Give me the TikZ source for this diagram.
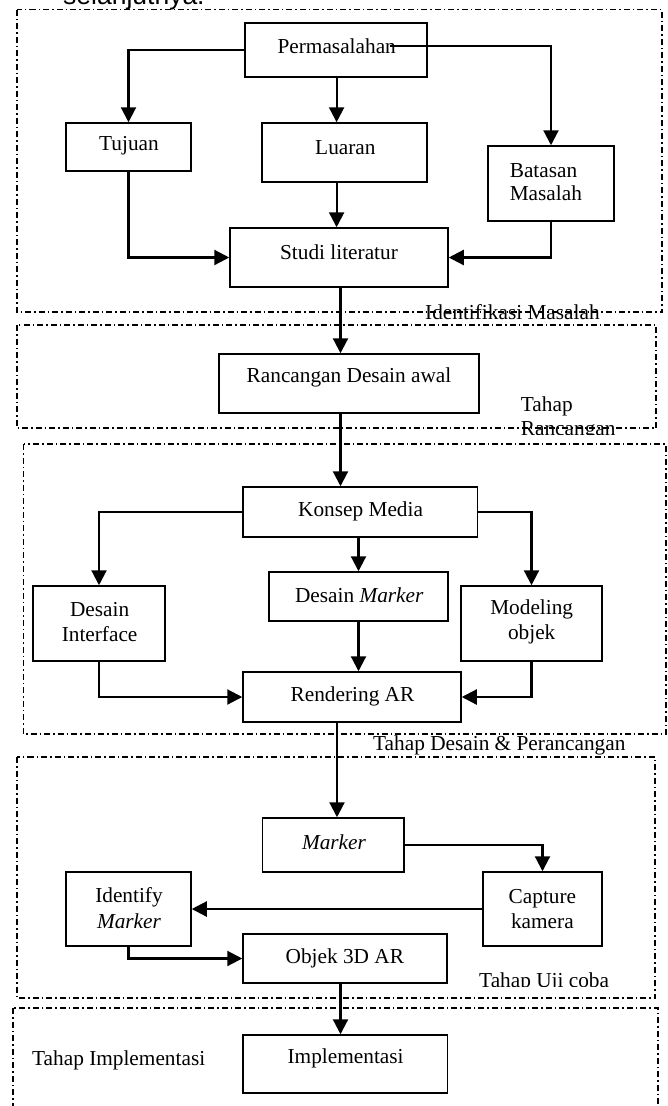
\documentclass[tikz,border=0pt]{standalone}
\usepackage{fontspec}
\setmainfont{Liberation Serif}
\newfontfamily\arialfont{Liberation Sans}
\usetikzlibrary{arrows.meta,calc}
\begin{document}
\begin{tikzpicture}[x=1pt,y=-1pt,
  box/.style={draw, line width=1.5pt, inner sep=0pt},
  lbl/.style={inner sep=0pt, font=\fontsize{21.3}{25.5}\selectfont, align=center},
  flbl/.style={inner sep=0pt, font=\fontsize{21.3}{25.5}\selectfont, anchor=base west},
  arr/.style={line width=2.2pt, -{Triangle[length=15pt,width=15pt]}},
  frame/.style={line width=1.2pt, dash pattern=on 6pt off 3pt on 1.5pt off 3pt},
]
\useasboundingbox (0,0) rectangle (668,1106);
\clip (0,0) rectangle (668,1106);

% top cut text
\node[inner sep=0pt, anchor=base west, font=\arialfont\fontsize{26.5}{30}\selectfont] (sel) at (63,4) {selanjutnya.};

% frames
\draw[frame] (17,9.5) rectangle (662,312);
\draw[frame] (17,325) rectangle (656,428);
\draw[frame] (23.5,444) rectangle (666,734);
\draw[frame] (17,757) rectangle (655,998);
\draw[frame] (13,1008) rectangle (658,1125);

% frame labels
\node[flbl] (fl1) at (425,319.3) {Identifikasi Masalah};
\node[flbl] (fl2a) at (520.7,411.7) {Tahap};
\begin{scope}
\clip (500,414) rectangle (640,434.5);
\node[flbl] (fl2b) at (520.7,435) {Rancangan};
\end{scope}
\node[flbl] (fl3) at (373,750) {Tahap Desain \& Perancangan};
\begin{scope}
\clip (470,960) rectangle (640,986);
\node[flbl] (fl4) at (479,987) {Tahap Uji coba};
\end{scope}
\node[flbl] (fl5) at (32,1065) {Tahap Implementasi};

% boxes
\node[box, minimum width=182pt, minimum height=54pt] (perm) at (336,50) {};
\node[box, minimum width=125pt, minimum height=48pt] (tuj) at (128.5,147) {};
\node[box, minimum width=165pt, minimum height=59pt] (luar) at (344.5,152.5) {};
\node[box, minimum width=126pt, minimum height=75pt] (bat) at (551,183.5) {};
\node[box, minimum width=218pt, minimum height=59pt] (studi) at (339,257.5) {};
\node[box, minimum width=260pt, minimum height=59pt] (ranc) at (349,383.5) {};
\node[box, minimum width=234.5pt, minimum height=50pt] (konsep) at (360,512) {};
\node[box, minimum width=132pt, minimum height=75pt] (di) at (99,623.5) {};
\node[box, minimum width=179pt, minimum height=49pt] (dm) at (358.5,596.5) {};
\node[box, minimum width=141pt, minimum height=75pt] (mod) at (531.5,623.5) {};
\node[box, minimum width=218pt, minimum height=50pt] (rend) at (352,697) {};
\node[box, minimum width=141.5pt, minimum height=54pt] (marker) at (333,845) {};
\node[box, minimum width=119pt, minimum height=74pt] (cap) at (542.5,909) {};
\node[box, minimum width=125pt, minimum height=74pt] (ident) at (128.5,909) {};
\node[box, minimum width=204pt, minimum height=49pt] (objek) at (345,958.5) {};
\node[box, minimum width=204.5pt, minimum height=58pt] (impl) at (345,1064) {};

% box texts
\node[lbl] (perm-t) at (336.7,46.7) {Permasalahan};
\node[lbl] (tuj-t) at (129,146) {Tujuan};
\node[lbl] (luar-t) at (345.4,147.7) {Luaran};
\node[lbl, anchor=west, align=left, font=\fontsize{21.3}{23.5}\selectfont] (bat-t) at (509.6,182.3) {Batasan\\Masalah};
\node[lbl] (studi-t) at (339,252.3) {Studi literatur};
\node[lbl] (ranc-t) at (349,377.7) {Rancangan Desain awal};
\node[lbl] (konsep-t) at (360.6,511) {Konsep Media};
\node[lbl] (di-t) at (99.6,622) {Desain\\Interface};
\node[lbl] (dm-t) at (359.3,595) {Desain \textit{Marker}};
\node[lbl] (mod-t) at (531.7,622) {Modeling\\objek};
\node[lbl] (rend-t) at (352.5,696.7) {Rendering AR};
\node[lbl] (marker-t) at (334,842.7) {\textit{Marker}};
\node[lbl] (cap-t) at (542.4,909) {Capture\\kamera};
\node[lbl] (ident-t) at (129,908) {Identify\\\textit{Marker}};
\node[lbl] (objek-t) at (344.8,958.3) {Objek 3D AR};
\node[lbl] (impl-t) at (345.6,1058.3) {Implementasi};

% helper coordinates
\coordinate (permout) at (390,45.7);
\coordinate (sp1) at (336.6,0);
\coordinate (sp2) at (340.5,0);
\coordinate (sp3) at (337,0);

% arrows
\draw[arr] (perm.west) -| (tuj.north);
\draw[arr] (perm.south -| sp1) -- (luar.north -| sp1);
\draw[arr] (permout) -| (bat.north);
\draw[arr] (tuj.south) |- (studi.west);
\draw[arr] (luar.south -| sp1) -- (studi.north -| sp1);
\draw[arr] (bat.south) |- (studi.east);
\draw[arr] (studi.south -| sp2) -- (ranc.north -| sp2);
\draw[arr] (ranc.south -| sp2) -- (konsep.north -| sp2);
\draw[arr] (konsep.west) -| (di.north);
\draw[arr] (konsep.south -| dm.north) -- (dm.north);
\draw[arr] (konsep.east) -| (mod.north);
\draw[arr] (di.south) |- (rend.west);
\draw[arr] (dm.south) -- (rend.north -| dm.south);
\draw[arr] (mod.south) |- (rend.east);
\draw[arr] (rend.south -| sp3) -- (marker.north -| sp3);
\draw[arr] (marker.east) -| (cap.north);
\draw[arr] (cap.west) -- (ident.east);
\draw[arr] (ident.south) |- (objek.west);
\draw[arr] (objek.south -| sp2) -- (impl.north -| sp2);
\end{tikzpicture}
\end{document}
